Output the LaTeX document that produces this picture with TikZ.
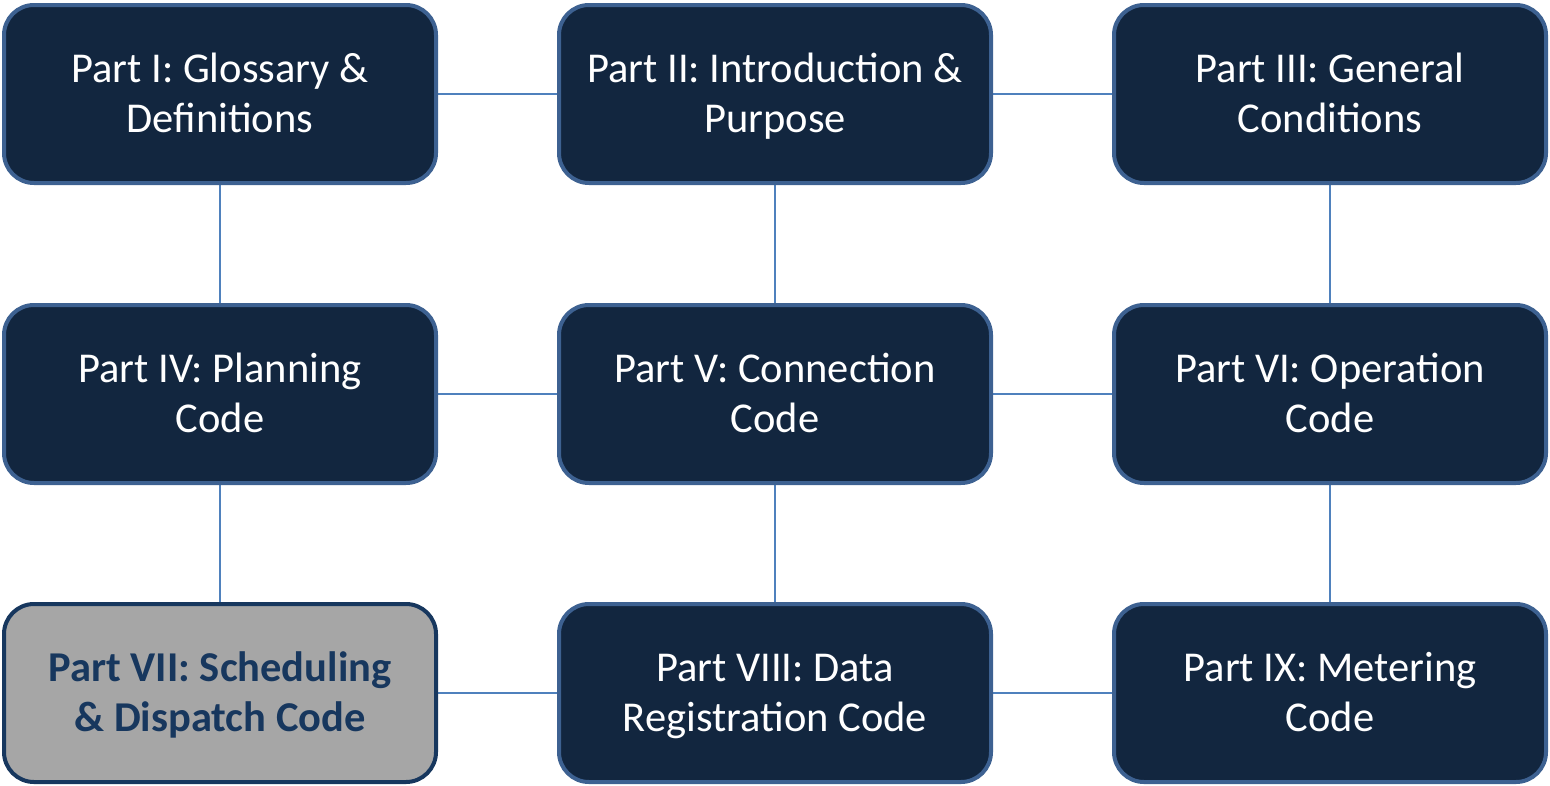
\documentclass[tikz,border=0pt]{standalone}
\usepackage{fontspec}
\setmainfont{Carlito}
\frenchspacing
\definecolor{boxfill}{HTML}{12263F}
\definecolor{boxedge}{HTML}{3D6191}
\definecolor{linkblue}{HTML}{4F81BD}
\definecolor{hilite}{HTML}{A6A6A6}
\definecolor{hiliteedge}{HTML}{17375E}
% two centred lines; the taller first strut nudges the text a little lower
\newcommand{\lines}[2]{\rule[-15pt]{0pt}{56pt}#1\\\strut#2}
\begin{document}
\begin{tikzpicture}[x=1pt,y=-1pt,
  part/.style={draw=boxedge, line width=4pt, fill=boxfill, rounded corners=30pt,
    minimum width=432pt, minimum height=178pt, text width=425pt, align=flush center,
    text=white, font=\fontsize{42.5}{50}\selectfont\frenchspacing, inner sep=0pt},
  current/.style={part, fill=hilite, draw=hiliteedge, text=hiliteedge,
    font=\fontsize{42.5}{50}\selectfont\frenchspacing\bfseries},
  link/.style={draw=linkblue, line width=2.2pt}]
\useasboundingbox (0,0) rectangle (1550,785);
% connectors drawn first so the boxes sit on top of them
\coordinate (c1) at (220,94);  \coordinate (c2) at (775,94);  \coordinate (c3) at (1330,94);
\coordinate (c4) at (220,394); \coordinate (c5) at (775,394); \coordinate (c6) at (1330,394);
\coordinate (c7) at (220,693); \coordinate (c8) at (775,693); \coordinate (c9) at (1330,693);
\draw[link] (c1) -- (c2) -- (c3);
\draw[link] (c4) -- (c5) -- (c6);
\draw[link] (c7) -- (c8) -- (c9);
\draw[link] (c1) -- (c4) -- (c7);
\draw[link] (c2) -- (c5) -- (c8);
\draw[link] (c3) -- (c6) -- (c9);
% the nine parts
\node[part] (p1) at (c1) {\lines{Part I: Glossary \&}{Definitions}};
\node[part] (p2) at (c2) {\lines{Part II: Introduction \&}{Purpose}};
\node[part] (p3) at (c3) {\lines{Part III: General}{Conditions}};
\node[part] (p4) at (c4) {\lines{Part IV: Planning}{Code}};
\node[part] (p5) at (c5) {\lines{Part V: Connection}{Code}};
\node[part] (p6) at (c6) {\lines{Part VI: Operation}{Code}};
\node[current] (p7) at (c7) {\lines{Part VII: Scheduling}{\& Dispatch Code}};
\node[part] (p8) at (c8) {\lines{Part VIII: Data}{Registration Code}};
\node[part] (p9) at (c9) {\lines{Part IX: Metering}{Code}};
\end{tikzpicture}
\end{document}
